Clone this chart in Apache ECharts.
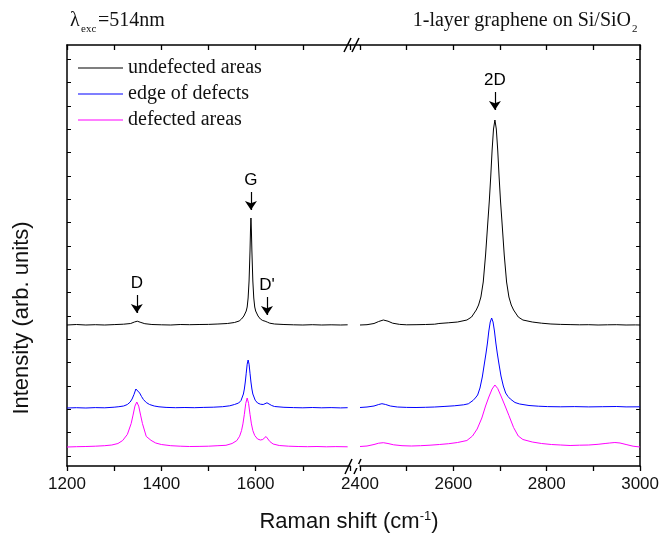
<!DOCTYPE html>
<html>
<head>
<meta charset="utf-8">
<script src="https://cdn.jsdelivr.net/npm/echarts@6/dist/echarts.min.js"></script>
<style>
  html, body { margin: 0; padding: 0; background: #fff; }
  #chart { width: 662px; height: 534px; }
</style>
</head>
<body>
<div id="chart"></div>
<script>
// Raman spectra (intensity in arbitrary units)
const names = ['undefected areas', 'edge of defects', 'defected areas'];
const colors = ['#000000', '#0000ff', '#ff00ff'];
const leftLabels = [1200, 1400, 1600];
const rightLabels = [2400, 2600, 2800, 3000];
const yTicks = [10, 33.3, 56.7, 80, 103.3, 126.7, 150, 173.3, 196.7, 220, 243.3, 266.7, 290, 313.3, 336.7, 360, 383.3, 406.7];

const blackLeft = [[1200,141],[1220,141.5],[1240,141],[1260,141.3],[1280,141],[1300,141.4],[1320,141.8],[1335,142.5],[1343,144],[1349,144.8],[1355,143.8],[1365,142.3],[1380,141.5],[1400,141.2],[1420,141],[1440,141.5],[1460,141.3],[1480,141.5],[1500,141.6],[1520,142],[1540,142.5],[1555,143.5],[1565,145],[1570,147],[1575,150],[1580,155],[1582,159],[1584,168],[1586,185],[1588,215],[1589,235],[1590,248],[1591,235],[1592,215],[1594,185],[1596,168],[1598,159],[1600,155],[1605,150],[1610,147],[1615,145.5],[1620,144.8],[1625,143.8],[1630,142.8],[1640,142],[1660,141.5],[1680,141.2],[1700,141],[1720,141.3],[1740,141],[1760,141.2],[1780,141],[1795,141.2]];
const blueLeft = [[1200,58],[1220,58.3],[1240,58],[1260,58.4],[1280,58.2],[1300,58.8],[1310,59.3],[1320,60],[1328,61.5],[1334,64],[1338,67],[1342,71.5],[1346,77],[1348,78],[1350,77],[1354,73],[1358,69.5],[1362,66.5],[1368,63.5],[1375,61.5],[1385,60],[1395,59.2],[1410,58.6],[1430,58.3],[1450,58.5],[1470,58.3],[1490,58.6],[1510,58.8],[1530,59.3],[1545,60.2],[1555,61.5],[1564,63],[1569,65.5],[1574,72],[1576,77],[1578,84],[1580,92.8],[1582,101.8],[1584,106],[1586,101.8],[1588,92.8],[1590,84],[1592,77],[1594,72],[1599,65.8],[1604,63],[1610,61.8],[1616,61.5],[1620,62.5],[1624,63.2],[1628,62.5],[1634,60.5],[1640,59.5],[1660,58.7],[1680,58.4],[1700,58.2],[1720,58.5],[1740,58.2],[1760,58.4],[1780,58.1],[1795,58.3]];
const pinkLeft = [[1200,19],[1220,19.3],[1240,19.5],[1260,19.8],[1280,20.3],[1295,21],[1308,22.5],[1318,25.5],[1328,31.6],[1336,42.4],[1340,50.9],[1344,59.9],[1348,64],[1352,59.9],[1356,50.9],[1360,42.4],[1368,29.6],[1378,25.7],[1388,23],[1400,21.5],[1420,20.3],[1440,19.8],[1460,19.5],[1480,19.6],[1500,19.8],[1520,20.3],[1537,20.7],[1550,22.5],[1560,25.4],[1566,29.8],[1570,35.4],[1573,42.1],[1576,51.7],[1579,62.6],[1582,68],[1585,62.6],[1588,51.7],[1591,42.1],[1594,35.4],[1598,30.5],[1604,27],[1610,26],[1615,26.5],[1619,28],[1622,29.5],[1625,28],[1630,24.5],[1637,22],[1650,20.5],[1670,19.8],[1690,19.5],[1710,19.3],[1730,19.5],[1750,19.2],[1770,19.4],[1795,19.2]];

const blackRight = [[2400,141],[2415,141.3],[2430,142.5],[2440,144.5],[2450,146],[2460,144.8],[2470,142.8],[2485,141.6],[2500,141.2],[2520,141.3],[2540,141.5],[2560,141.8],[2569,142.5],[2589,143.2],[2609,144],[2629,146],[2639,149],[2649,156],[2654,161],[2659,169],[2664,184],[2669,211],[2674,245],[2677,265],[2680,289],[2683,316],[2686,337],[2689,346],[2692,337],[2695,316],[2698,289],[2701,265],[2704,245],[2709,211],[2714,184],[2719,169],[2724,161],[2729,156],[2739,149],[2749,146],[2769,144],[2789,142.8],[2809,142],[2830,141.6],[2850,141.4],[2870,141.2],[2890,141.3],[2910,141],[2930,141.2],[2950,141.3],[2970,141],[2990,141.1],[3000,141]];
const blueRight = [[2400,58.5],[2415,59],[2430,60],[2440,61.5],[2447,62.3],[2455,61.5],[2465,60],[2480,59],[2500,58.6],[2520,58.5],[2540,58.7],[2560,59],[2582,59.6],[2602,60.2],[2622,61.2],[2632,62.2],[2642,65.5],[2647,68],[2652,71],[2657,78],[2662,89],[2667,104],[2670,113],[2673,123],[2676,135],[2679,144],[2682,148],[2685,144],[2688,135],[2691,123],[2694,113],[2697,104],[2702,90],[2707,80],[2712,73],[2717,69.5],[2722,67],[2732,63.5],[2742,62],[2762,60.5],[2782,59.8],[2802,59.4],[2830,59.2],[2860,59.4],[2890,59.1],[2920,59.3],[2950,59.5],[2970,59.1],[3000,59.2]];
const pinkRight = [[2400,19.5],[2415,20],[2430,21.5],[2440,22.8],[2450,23.3],[2460,22.5],[2472,21.2],[2490,20.3],[2510,20],[2530,20.3],[2550,20.8],[2570,21.5],[2590,22.3],[2609,23.5],[2629,25.5],[2641,30],[2651,37],[2661,48],[2669,60],[2676,69],[2683,77],[2689,81],[2695,77.5],[2702,70],[2710,61],[2719,50.5],[2729,38.5],[2739,30],[2749,26.5],[2769,24],[2789,22.5],[2810,21.5],[2830,21],[2850,20.5],[2870,20.8],[2890,21],[2910,21.7],[2925,22.5],[2935,23],[2946,23.5],[2957,23],[2970,21.5],[2985,19.8],[3000,19]];

// peak markers: [label, x, arrow start, arrow end]
const peaksLeft = [['D', 1348, 171, 153], ['G', 1590, 274, 256], ["D'", 1624, 169, 151]];
const peaksRight = [['2D', 2689, 374, 356]];

const chart = echarts.init(document.getElementById('chart'));

const sans = 'Liberation Sans, Arial, sans-serif';
const serif = 'Liberation Serif, Times New Roman, serif';

function arrows(list) {
    return {
        silent: true,
        symbol: ['none', 'arrow'],
        symbolSize: 9,
        lineStyle: { color: '#000', width: 1.2, type: 'solid' },
        label: { show: true, position: 'start', distance: 3, formatter: '{b}', color: '#000', fontSize: 17, fontFamily: sans },
        data: list.map(p => [{ name: p[0], coord: [p[1], p[2]] }, { coord: [p[1], p[3]] }])
    };
}

function xAx(grid, min, max, pos, labels) {
    return {
        type: 'value', gridIndex: grid, min: min, max: max, interval: 100, position: pos,
        axisLine: { show: true, lineStyle: { color: '#000', width: 1.5 } },
        axisTick: { show: true, inside: pos === 'top', length: 5, lineStyle: { color: '#000', width: 1.3 } },
        axisLabel: {
            show: !!labels, fontSize: 17, fontFamily: sans, color: '#111', margin: 10,
            formatter: v => (labels && labels.includes(v)) ? String(v) : ''
        },
        splitLine: { show: false }
    };
}

function yAx(grid, pos) {
    return {
        type: 'value', gridIndex: grid, min: 0, max: 421, position: pos,
        axisLine: { show: true, lineStyle: { color: '#000', width: 1.5 } },
        axisTick: { show: true, inside: true, length: 4, customValues: yTicks, lineStyle: { color: '#000', width: 1 } },
        axisLabel: { show: false },
        splitLine: { show: false }
    };
}

function line(name, data, color, xi, yi, mark) {
    const s = {
        name: name, type: 'line', data: data, xAxisIndex: xi, yAxisIndex: yi,
        symbol: 'none', color: color, lineStyle: { color: color, width: 1 }, z: 3
    };
    if (mark) s.markLine = mark;
    return s;
}

const option = {
    animation: false,
    backgroundColor: '#fff',
    grid: [
        { left: 67, top: 45, width: 283, height: 421 },
        { left: 360, top: 45, width: 281, height: 421 }
    ],
    xAxis: [
        xAx(0, 1200, 1800, 'bottom', leftLabels),
        xAx(1, 2400, 3000, 'bottom', rightLabels),
        xAx(0, 1200, 1800, 'top', null),
        xAx(1, 2400, 3000, 'top', null)
    ],
    yAxis: [yAx(0, 'left'), yAx(1, 'right')],
    legend: {
        data: names,
        orient: 'vertical',
        left: 78, top: 58, padding: 0,
        itemWidth: 45, itemHeight: 14, itemGap: 6,
        icon: 'path://M0,0 L45,0 L45,1.2 L0,1.2 Z',
        textStyle: { fontFamily: serif, fontSize: 20, color: '#111', lineHeight: 19 },
        selectedMode: false
    },
    series: [
        line(names[0], blackLeft, colors[0], 0, 0, arrows(peaksLeft)),
        line(names[1], blueLeft, colors[1], 0, 0),
        line(names[2], pinkLeft, colors[2], 0, 0),
        line(names[0], blackRight, colors[0], 1, 1, arrows(peaksRight)),
        line(names[1], blueRight, colors[1], 1, 1),
        line(names[2], pinkRight, colors[2], 1, 1)
    ],
    graphic: [
        // top border across the break, and the // marks
        { type: 'line', shape: { x1: 350, y1: 45, x2: 360, y2: 45 }, style: { stroke: '#000', lineWidth: 1.5 } },
        { type: 'line', shape: { x1: 344, y1: 52, x2: 351, y2: 38 }, style: { stroke: '#000', lineWidth: 1.5 } },
        { type: 'line', shape: { x1: 352, y1: 52, x2: 359, y2: 38 }, style: { stroke: '#000', lineWidth: 1.5 } },
        { type: 'line', shape: { x1: 345, y1: 474, x2: 352, y2: 459 }, style: { stroke: '#000', lineWidth: 1.5 } },
        { type: 'line', shape: { x1: 354, y1: 474, x2: 361, y2: 459 }, style: { stroke: '#000', lineWidth: 1.5 } },
        { type: 'rect', shape: { x: 351, y: 464, width: 8, height: 4 }, style: { fill: '#fff' }, z: 0 },
        // titles
        { type: 'text', x: 70, y: 21, style: { text: 'λ', font: '20px ' + serif, fill: '#111', textVerticalAlign: 'middle' } },
        { type: 'text', x: 81, y: 29, style: { text: 'exc', font: '11px ' + serif, fill: '#111', textVerticalAlign: 'middle' } },
        { type: 'text', x: 98, y: 21, style: { text: '=514nm', font: '20px ' + serif, fill: '#111', textVerticalAlign: 'middle' } },
        { type: 'text', x: 631, y: 21, style: { text: '1-layer graphene on Si/SiO', font: '20px ' + serif, fill: '#111', textAlign: 'right', textVerticalAlign: 'middle' } },
        { type: 'text', x: 632, y: 29, style: { text: '2', font: '11px ' + serif, fill: '#111', textVerticalAlign: 'middle' } },
        // axis names
        { type: 'text', x: 22, y: 318, rotation: Math.PI / 2, style: { text: 'Intensity (arb. units)', font: '22px ' + sans, fill: '#111', textAlign: 'center', textVerticalAlign: 'middle' } },
        {
            type: 'text', x: 349, y: 522,
            style: {
                text: '{a|Raman shift (cm}{s|-1}{a|)}',
                textAlign: 'center', textVerticalAlign: 'middle',
                rich: {
                    a: { fontFamily: sans, fontSize: 22, fill: '#111', color: '#111' },
                    s: { fontFamily: sans, fontSize: 13, fill: '#111', color: '#111', verticalAlign: 'top', padding: [0, 0, 11, 0] }
                }
            }
        }
    ]
};

chart.setOption(option);
</script>
</body>
</html>
